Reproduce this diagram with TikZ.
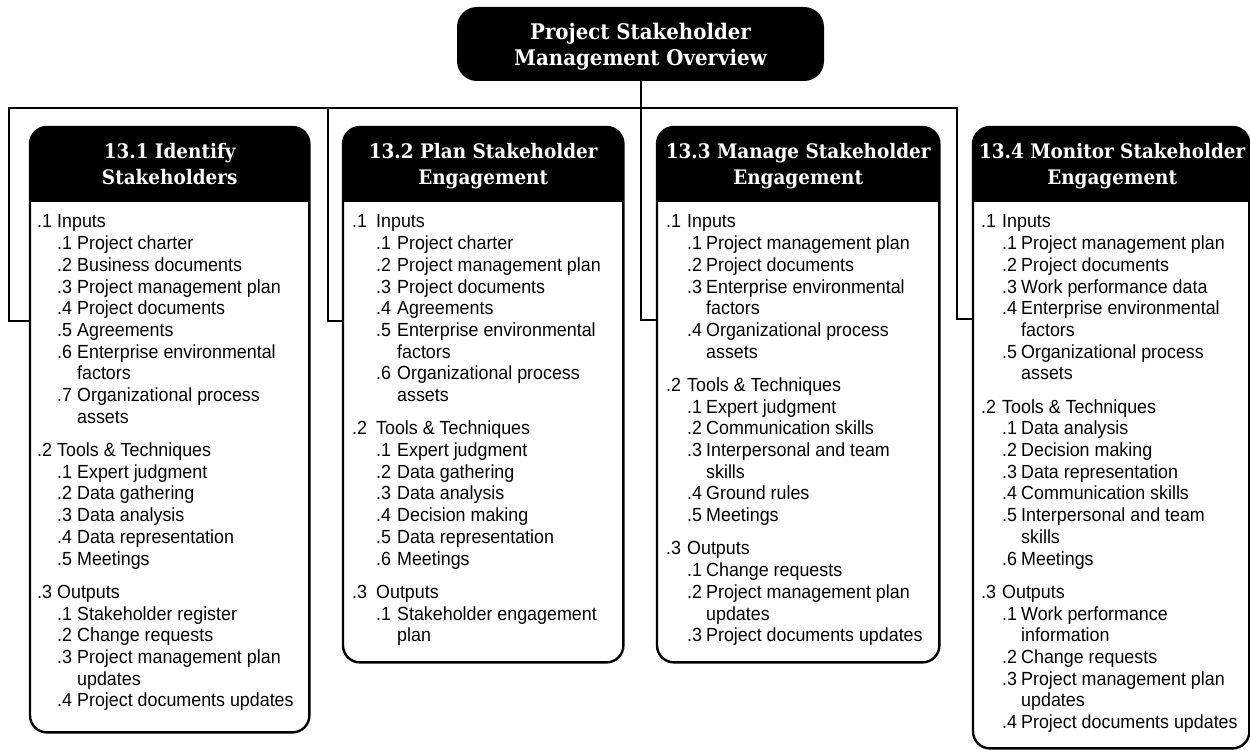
\documentclass[tikz,border=0pt]{standalone}
\usepackage{fontspec}
\setmainfont{Liberation Sans}[FakeStretch=0.94]
\newfontfamily\hdrfont{DejaVu Serif}[FakeStretch=0.92]
\newlength\la \newlength\lb \newlength\lc
\newcommand\setind[2]{\setlength\la{#1}\setlength\lb{#2}\setlength\lc{\dimexpr#2-#1\relax}}
\newcommand\Lone[2]{\noindent\makebox[\la][l]{#1}#2\par}
\newcommand\Ltwo[2]{\noindent\hspace*{\la}\makebox[\lc][l]{#1}#2\par}
\newcommand\Lcont[1]{\noindent\hspace*{\lb}#1\par}
\newcommand\Lgap{\vspace{11.6pt}}
\tikzset{
  conn/.style={line width=2pt, line join=miter},
  topbox/.style={rectangle, rounded corners=20pt, fill=black, text=white, minimum width=367pt, minimum height=74pt, inner sep=0pt},
  boxbg/.style={rectangle, rounded corners=17pt, fill=white, inner sep=0pt, anchor=north west},
  frame/.style={line width=2.4pt, rounded corners=17pt},
  hdr/.style={text=white, inner sep=0pt, anchor=base, font=\hdrfont\bfseries\fontsize{20}{26}\selectfont},
  body/.style={inner sep=0pt, anchor=base west, font=\fontsize{19}{21.7}\selectfont},
}
\newcommand\hdrtext[2]{\parbox[t]{#1}{\centering #2}}
\newcommand\bodytext[1]{\parbox[t]{300pt}{\parskip=0pt\parindent=0pt #1}}
\begin{document}
\begin{tikzpicture}[x=1pt,y=-1pt]
\useasboundingbox (0,0) rectangle (1250,751);

% top node
\node[topbox] (top) at (640.5,44) {\parbox[c]{360pt}{\vspace*{6pt}\centering\hdrfont\bfseries\fontsize{21.5}{26}\selectfont Project Stakeholder\\Management Overview}};

% boxes
\node[boxbg, minimum width=279pt, minimum height=605pt] (b1) at (30,127) {};
\node[boxbg, minimum width=280pt, minimum height=535pt] (b2) at (343,127) {};
\node[boxbg, minimum width=282pt, minimum height=535pt] (b3) at (657,127) {};
\node[boxbg, minimum width=276pt, minimum height=621pt] (b4) at (973,127) {};

\foreach \b in {b1,b2,b3,b4}{
  \begin{scope}
    \clip (\b.north west) rectangle ([yshift=-75pt]\b.north east);
    \fill[rounded corners=17pt] (\b.north west) rectangle (\b.south east);
  \end{scope}
  \draw[frame] (\b.north west) rectangle (\b.south east);
}

% headers
\node[hdr] (h1) at ([yshift=-32pt]b1.north) {\hdrtext{275pt}{13.1 Identify\\Stakeholders}};
\node[hdr] (h2) at ([yshift=-32pt]b2.north) {\hdrtext{278pt}{13.2 Plan Stakeholder\\Engagement}};
\node[hdr] (h3) at ([yshift=-32pt]b3.north) {\hdrtext{280pt}{13.3 Manage Stakeholder\\Engagement}};
\node[hdr] (h4) at ([yshift=-32pt,xshift=1pt]b4.north) {\hdrtext{280pt}{13.4 Monitor Stakeholder\\Engagement}};

% body texts
\setind{20pt}{40pt}
\node[body] (t1) at ([xshift=7pt,yshift=-101pt]b1.north west) {\bodytext{%
\Lone{.1}{Inputs}
\Ltwo{.1}{Project charter}
\Ltwo{.2}{Business documents}
\Ltwo{.3}{Project management plan}
\Ltwo{.4}{Project documents}
\Ltwo{.5}{Agreements}
\Ltwo{.6}{Enterprise environmental}
\Lcont{factors}
\Ltwo{.7}{Organizational process}
\Lcont{assets}
\Lgap
\Lone{.2}{Tools \& Techniques}
\Ltwo{.1}{Expert judgment}
\Ltwo{.2}{Data gathering}
\Ltwo{.3}{Data analysis}
\Ltwo{.4}{Data representation}
\Ltwo{.5}{Meetings}
\Lgap
\Lone{.3}{Outputs}
\Ltwo{.1}{Stakeholder register}
\Ltwo{.2}{Change requests}
\Ltwo{.3}{Project management plan}
\Lcont{updates}
\Ltwo{.4}{Project documents updates}}};

\setind{24pt}{45pt}
\node[body] (t2) at ([xshift=9pt,yshift=-101pt]b2.north west) {\bodytext{%
\Lone{.1}{Inputs}
\Ltwo{.1}{Project charter}
\Ltwo{.2}{Project management plan}
\Ltwo{.3}{Project documents}
\Ltwo{.4}{Agreements}
\Ltwo{.5}{Enterprise environmental}
\Lcont{factors}
\Ltwo{.6}{Organizational process}
\Lcont{assets}
\Lgap
\Lone{.2}{Tools \& Techniques}
\Ltwo{.1}{Expert judgment}
\Ltwo{.2}{Data gathering}
\Ltwo{.3}{Data analysis}
\Ltwo{.4}{Decision making}
\Ltwo{.5}{Data representation}
\Ltwo{.6}{Meetings}
\Lgap
\Lone{.3}{Outputs}
\Ltwo{.1}{Stakeholder engagement}
\Lcont{plan}}};

\setind{21pt}{40pt}
\node[body] (t3) at ([xshift=9pt,yshift=-101pt]b3.north west) {\bodytext{%
\Lone{.1}{Inputs}
\Ltwo{.1}{Project management plan}
\Ltwo{.2}{Project documents}
\Ltwo{.3}{Enterprise environmental}
\Lcont{factors}
\Ltwo{.4}{Organizational process}
\Lcont{assets}
\Lgap
\Lone{.2}{Tools \& Techniques}
\Ltwo{.1}{Expert judgment}
\Ltwo{.2}{Communication skills}
\Ltwo{.3}{Interpersonal and team}
\Lcont{skills}
\Ltwo{.4}{Ground rules}
\Ltwo{.5}{Meetings}
\Lgap
\Lone{.3}{Outputs}
\Ltwo{.1}{Change requests}
\Ltwo{.2}{Project management plan}
\Lcont{updates}
\Ltwo{.3}{Project documents updates}}};

\setind{21pt}{40pt}
\node[body] (t4) at ([xshift=8pt,yshift=-101pt]b4.north west) {\bodytext{%
\Lone{.1}{Inputs}
\Ltwo{.1}{Project management plan}
\Ltwo{.2}{Project documents}
\Ltwo{.3}{Work performance data}
\Ltwo{.4}{Enterprise environmental}
\Lcont{factors}
\Ltwo{.5}{Organizational process}
\Lcont{assets}
\Lgap
\Lone{.2}{Tools \& Techniques}
\Ltwo{.1}{Data analysis}
\Ltwo{.2}{Decision making}
\Ltwo{.3}{Data representation}
\Ltwo{.4}{Communication skills}
\Ltwo{.5}{Interpersonal and team}
\Lcont{skills}
\Ltwo{.6}{Meetings}
\Lgap
\Lone{.3}{Outputs}
\Ltwo{.1}{Work performance}
\Lcont{information}
\Ltwo{.2}{Change requests}
\Ltwo{.3}{Project management plan}
\Lcont{updates}
\Ltwo{.4}{Project documents updates}}};

% connectors
\coordinate (busL) at (9,108);
\coordinate (bus2) at (328,108);
\coordinate (busR) at (957,108);
\draw[conn] ([yshift=-194pt]b1.north west) -| (busL) -- (busR) |- ([yshift=-192pt]b4.north west);
\draw[conn] (bus2) |- ([yshift=-194pt]b2.north west);
\draw[conn] (top.south) |- ([yshift=-193pt]b3.north west);
\end{tikzpicture}
\end{document}
